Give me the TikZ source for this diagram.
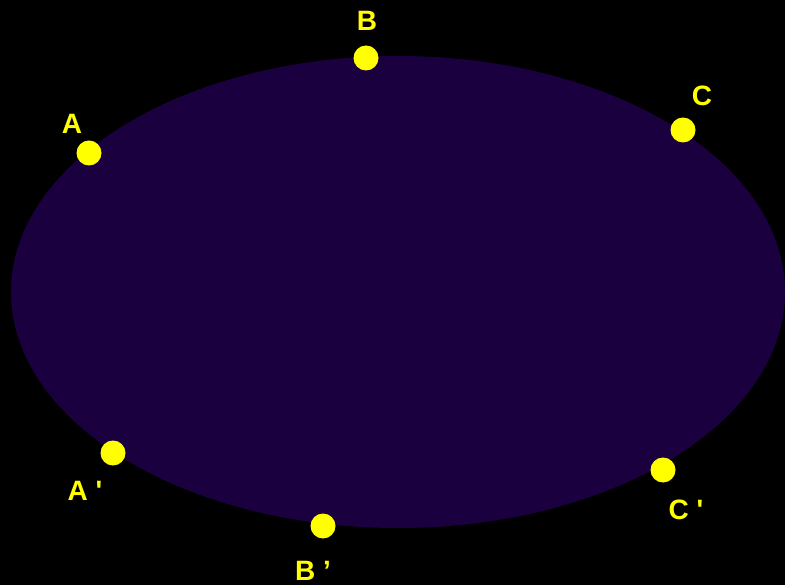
\documentclass[tikz,border=0pt]{standalone}
\usepackage{fontspec}
\setmainfont{Liberation Sans}
\usepackage{xcolor}
\usepackage{tikz}
\usetikzlibrary{positioning}

\definecolor{orbitfill}{HTML}{1B003F}
\definecolor{dotyellow}{HTML}{FFFF00}

\tikzset{
    dot/.style={circle, fill=dotyellow, inner sep=0pt, minimum size=25pt},
    lbl/.style={text=dotyellow, font=\fontsize{28}{30}\selectfont\bfseries, inner sep=0pt}
}

\begin{document}
\begin{tikzpicture}[x=1pt, y=-1pt]

% Background
\fill[black] (0,0) rectangle (785,585);
\useasboundingbox (0,0) rectangle (785,585);

% Ellipse
\fill[orbitfill] (398,292) ellipse [x radius=387, y radius=236];

% Points on the ellipse
\node[dot] (A) at (89,153) {};
\node[dot] (B) at (366,58) {};
\node[dot] (C) at (683,130) {};
\node[dot] (Ap) at (113,453) {};
\node[dot] (Bp) at (323,526) {};
\node[dot] (Cp) at (663,470) {};

% Labels
\node[lbl] (lblA) at (72,124) {A};
\node[lbl] (lblB) at (367,21) {B};
\node[lbl] (lblC) at (702,96) {C};
\node[lbl] (lblAp) at (85,491) {A \textquotesingle};
\node[lbl] (lblBp) at (313,571) {B ’};
\node[lbl] (lblCp) at (686,510) {C \textquotesingle};

\end{tikzpicture}
\end{document}
